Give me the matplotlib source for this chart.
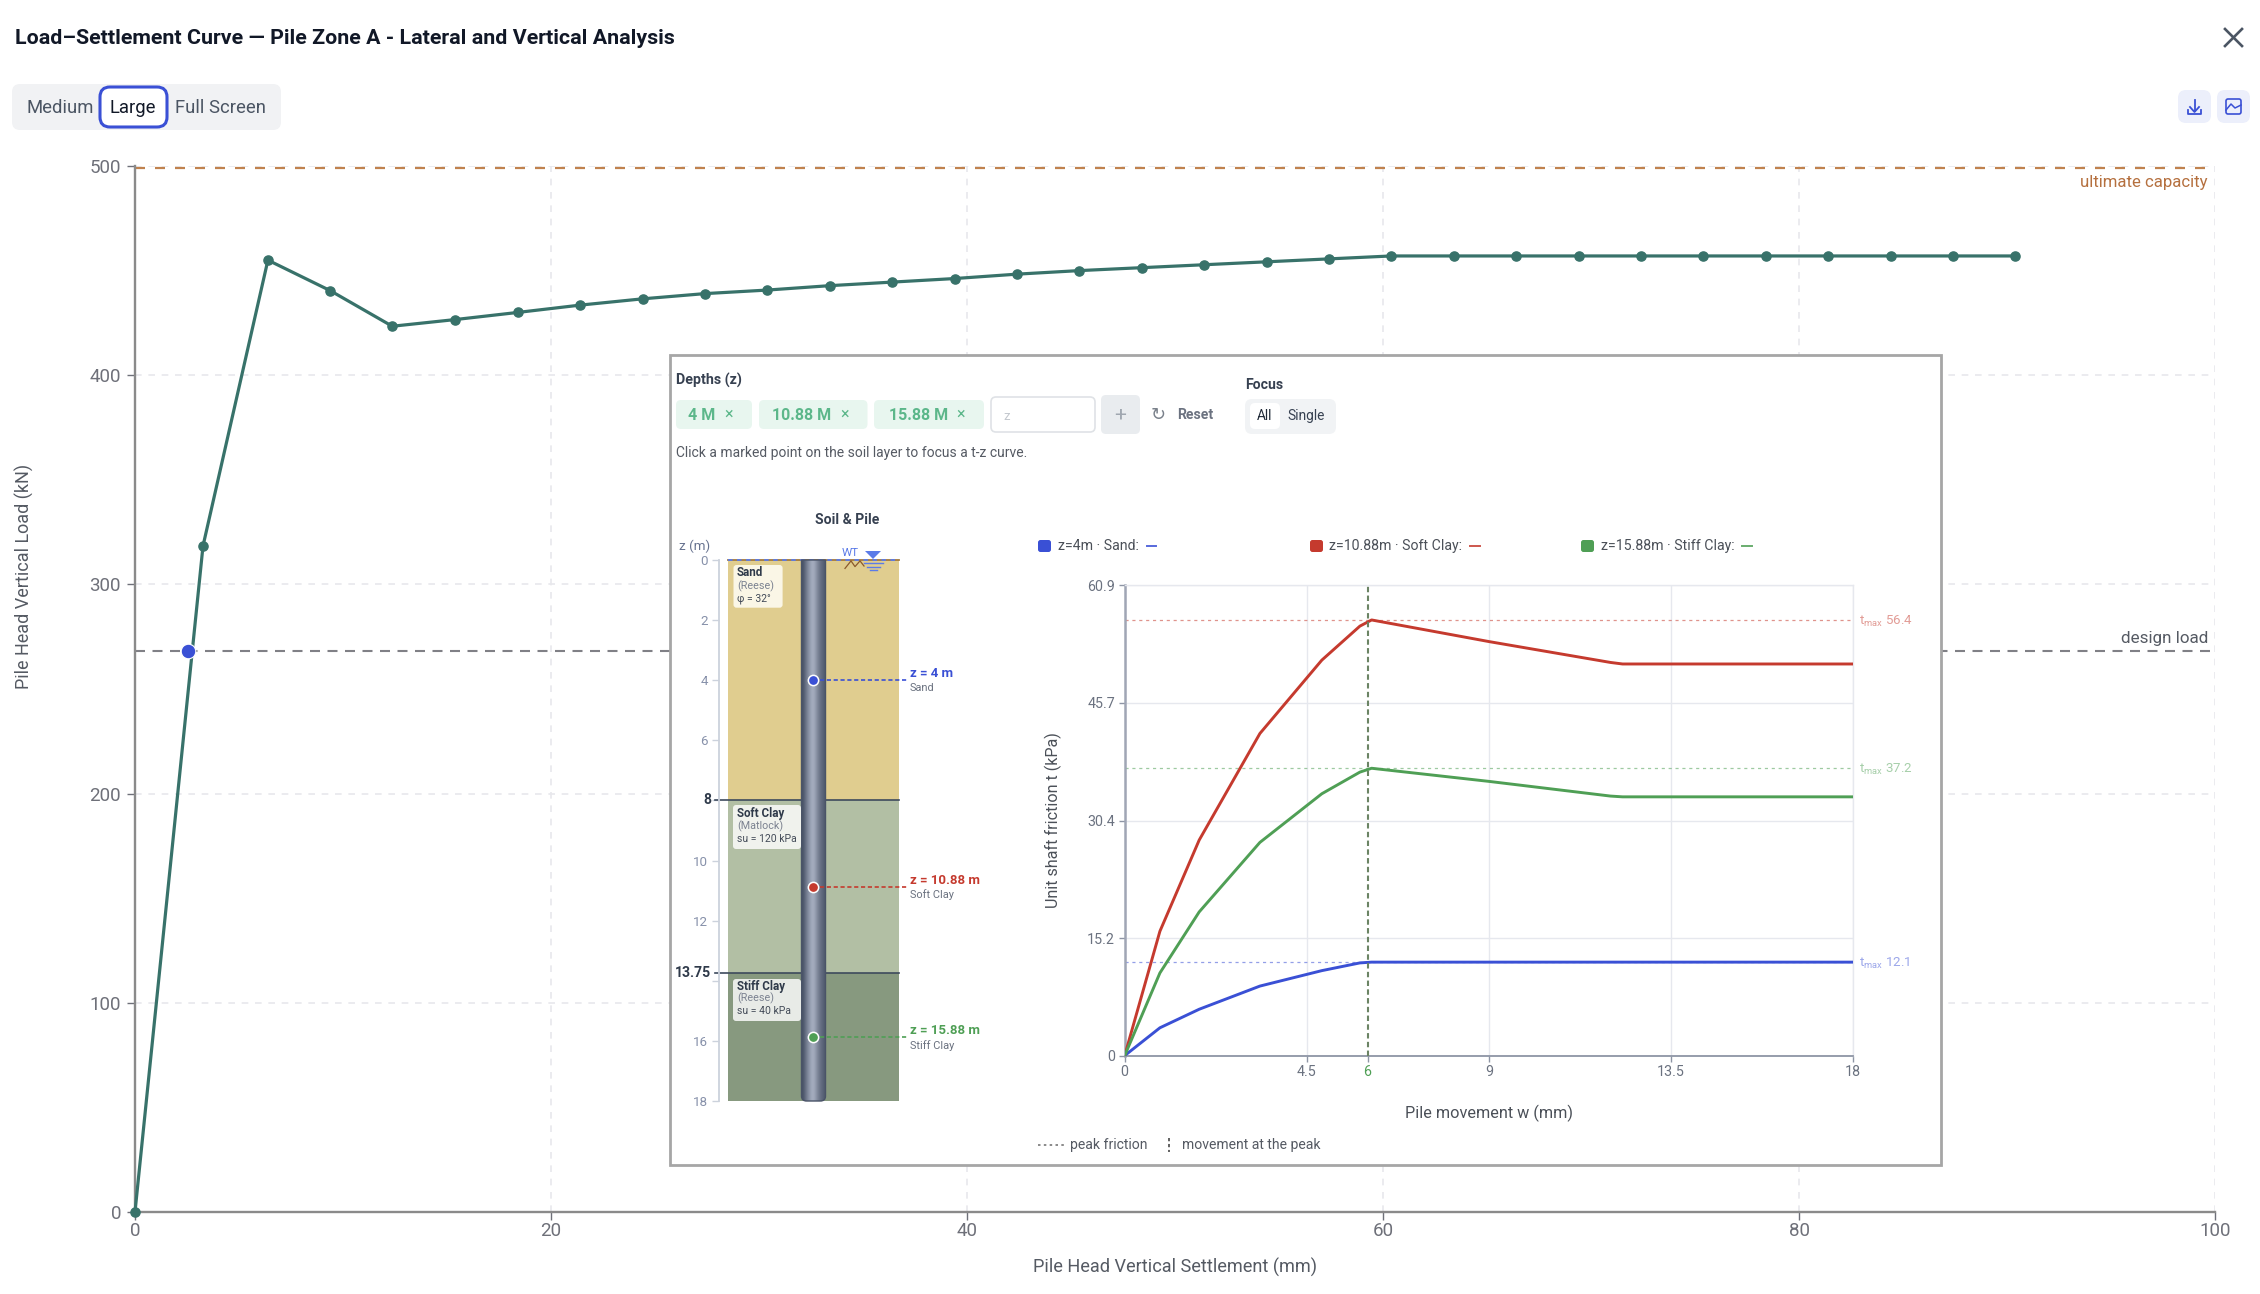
import numpy as np
import matplotlib
matplotlib.use("Agg")
import matplotlib.pyplot as plt
from matplotlib.patches import FancyBboxPatch, Rectangle, Polygon, PathPatch
from matplotlib.path import Path

plt.rcParams['font.family'] = ['Roboto', 'DejaVu Sans']
plt.rcParams['mathtext.fontset'] = 'custom'
plt.rcParams['mathtext.rm'] = 'Roboto'

# ---------- data ----------
settlement = [0, 3.27, 6.39, 9.39, 12.37, 15.4, 18.4, 21.4, 24.4, 27.4, 30.4, 33.4, 36.4, 39.4, 42.4,
              45.4, 48.4, 51.4, 54.4, 57.4, 60.4, 63.4, 66.4, 69.4, 72.4, 75.4, 78.4, 81.4, 84.4, 87.4, 90.4]
load = [0, 318.4, 455, 440.4, 423.4, 426.6, 430, 433.5, 436.5, 439, 440.7, 442.8, 444.5, 446.2, 448.3,
        450, 451.4, 452.8, 454.2, 455.6, 457, 457, 457, 457, 457, 457, 457, 457, 457, 457, 457]
design_point = (2.53, 268.2)
ultimate_load = 499.2
main_xticks = [0, 20, 40, 60, 80, 100]
main_yticks = [0, 100, 200, 300, 400, 500]

w_mm = [0, 0.87, 1.84, 3.34, 4.87, 5.81, 6.1, 9.0, 12.0, 12.3, 18]
t_sand = [0, 3.6, 6.0, 9.0, 11.0, 12.0, 12.1, 12.1, 12.1, 12.1, 12.1]
t_soft = [0, 16.1, 27.9, 41.7, 51.2, 55.6, 56.4, 53.6, 50.9, 50.7, 50.7]
t_stiff = [0, 10.7, 18.6, 27.6, 33.9, 36.7, 37.2, 35.5, 33.6, 33.5, 33.5]
t_max = [12.1, 56.4, 37.2]
peak_w = 6
tz_xticks = [0, 4.5, 6, 9, 13.5, 18]
tz_yticks = [0, 15.2, 30.4, 45.7, 60.9]
tz_ylabels = ['0', '15.2', '30.4', '45.7', '60.9']
tz_xlabels = ['0', '4.5', '6', '9', '13.5', '18']

layer_tops = [0, 8, 13.75]
layer_bottoms = [8, 13.75, 18]
layer_names = ['Sand', 'Soft Clay', 'Stiff Clay']
layer_models = ['(Reese)', '(Matlock)', '(Reese)']
layer_props = ['φ = 32°', 'su = 120 kPa', 'su = 40 kPa']
depths = [4, 10.88, 15.88]
depth_labels = ['z = 4 m', 'z = 10.88 m', 'z = 15.88 m']
z_ticks = [0, 2, 4, 6, 8, 10, 12, 14, 16, 18]
chips = ['4 M', '10.88 M', '15.88 M']
legend_labels = ['z=4m · Sand:', 'z=10.88m · Soft Clay:', 'z=15.88m · Stiff Clay:']

BLUE, RED, GREEN = '#3a50d5', '#c53a2e', '#4f9f55'
TEAL = '#38726a'
SOIL = ['#e0cd8f', '#b2bfa4', '#87997f']

W, H = 2260, 1294
fig = plt.figure(figsize=(W / 100, H / 100), dpi=100, facecolor='white')
fs = lambda px: px * 0.72


def axpx(x0, y0, x1, y1, **kw):
    return fig.add_axes([x0 / W, 1 - y1 / H, (x1 - x0) / W, (y1 - y0) / H], **kw)


# ---------- main chart ----------
ax = axpx(135, 166, 2215, 1212, zorder=1)
ax.set_xlim(0, 100)
ax.set_ylim(0, 500)
for s in ('top', 'right'):
    ax.spines[s].set_visible(False)
for s in ('left', 'bottom'):
    ax.spines[s].set_color('#8a8a8a')
    ax.spines[s].set_linewidth(1.7)
ax.set_xticks(main_xticks)
ax.set_yticks(main_yticks)
ax.tick_params(length=6, width=1, color='#6e7079', labelcolor='#6e7079', labelsize=fs(18.8), pad=4)
ax.tick_params(axis='x', pad=1)
ax.grid(True, color='#e8e8ec', lw=1.2, ls=(0, (4, 4)))
ax.set_axisbelow(True)
ax.axhline(ultimate_load, color='#c0824e', lw=1.6, ls=(0, (4.5, 4.5)), zorder=2, clip_on=False)
ax.axhline(design_point[1], color='#808086', lw=1.5, ls=(0, (4.8, 3.6)), zorder=2)
ax.plot(settlement, load, color=TEAL, lw=2.3, marker='o', ms=6.6, zorder=3, clip_on=False)
ax.plot([design_point[0]], [design_point[1]], 'o', ms=10.5, color=BLUE, mec='white', mew=0.8, zorder=4)
ax.set_xlabel('Pile Head Vertical Settlement (mm)', fontsize=fs(18.1), color='#555a63', labelpad=0)
ax.xaxis.set_label_coords((1175 - 135) / 2080, -(1267 - 1212) / 1046)
ax.xaxis.label.set_va('center')
ax.set_ylabel('Pile Head Vertical Load (kN)', fontsize=fs(18), color='#555a63')
ax.yaxis.set_label_coords(-(135 - 24) / 2080, (1212 - 576) / 1046)
ax.yaxis.label.set_va('center')

# ---------- interface layer in pixel coordinates ----------
ui = axpx(0, 0, W, H, zorder=2)
ui.set_xlim(0, W)
ui.set_ylim(H, 0)
ui.axis('off')
ui.patch.set_alpha(0)


def rbox(x0, y0, x1, y1, r, fc, ec='none', lw=0, z=2):
    ui.add_patch(FancyBboxPatch((x0 + r, y0 + r), x1 - x0 - 2 * r, y1 - y0 - 2 * r,
                                boxstyle=f'round,pad={r},rounding_size={r}', fc=fc, ec=ec, lw=lw, zorder=z))


def label(x, y, s, px, color='#444', ha='left', weight='normal', z=5, **kw):
    ui.text(x, y + 1, s, fontsize=fs(px), color=color, ha=ha, va='center', fontweight=weight, zorder=z, **kw)


label(15, 37.5, 'Load–Settlement Curve — Pile Zone A - Lateral and Vertical Analysis', 21.4, '#111827', weight='bold')
rbox(12, 84, 281, 130, 8, '#f1f2f4')
rbox(100, 87, 167, 127, 10, 'white', ec=BLUE, lw=2.2)
label(60, 107, 'Medium', 18.5, '#4b5563', ha='center')
label(133, 107, 'Large', 18.5, '#111827', ha='center')
label(220, 107, 'Full Screen', 18.5, '#4b5563', ha='center')

# close icon
ui.plot([2225, 2242], [29, 46], color='#4b5563', lw=1.9, zorder=3)
ui.plot([2225, 2242], [46, 29], color='#4b5563', lw=1.9, zorder=3)
# download and image buttons
rbox(2178, 90, 2211, 123, 8, '#eceffb')
rbox(2217, 90, 2250, 123, 8, '#eceffb')
ui.plot([2194.5, 2194.5], [100, 111], color=BLUE, lw=1.3, zorder=3)
ui.plot([2190, 2194.5, 2199], [107, 112, 107], color=BLUE, lw=1.3, zorder=3)
ui.plot([2188, 2188, 2201, 2201], [110, 114, 114, 110], color=BLUE, lw=1.3, zorder=3)
rbox(2226, 99, 2241, 114, 2, 'none', ec=BLUE, lw=1.2, z=3)
ui.plot([2226, 2231, 2235, 2241], [110, 104, 108, 105], color=BLUE, lw=1.1, zorder=3)

label(2208, 181, 'ultimate capacity', 16.7, '#b5703f', ha='right')
label(2208, 638, 'design load', 17, '#555a63', ha='right')

# panel
ui.add_patch(Rectangle((670, 355), 1271, 810, fc='white', ec='#a6a6a6', lw=2, zorder=1.5))
label(676, 379, 'Depths (z)', 14.2, '#374151', weight='bold')
for (x0, x1), s, tx, cx in zip([(676, 752), (759, 867.5), (874, 984)], chips, [702, 802, 918.5], [729, 845, 961]):
    rbox(x0, 400, x1, 429, 5, '#e8f6ef')
    label(tx, 414, s, 16, '#5cb78a', ha='center', weight='bold')
    label(cx, 413, '×', 16, '#5cb78a', ha='center')
rbox(991, 397, 1095, 432, 5, 'white', ec='#dfe2e6', lw=1.2)
label(1003, 415, 'z', 13, '#c4c8ce')
rbox(1101, 395, 1140, 434, 5, '#e9ecef')
label(1120.5, 414, '+', 21, '#a0a7b0', ha='center')
label(1158, 414, '↻', 18, '#7a818b', ha='center')
label(1177, 414, 'Reset', 14, '#6b7280', weight='bold')
label(1245, 384, 'Focus', 14, '#374151', weight='bold')
rbox(1245, 399, 1336, 434, 7, '#f1f3f5')
rbox(1250, 403, 1280, 429, 5, 'white')
label(1265, 415, 'All', 13.8, '#1f2937', ha='center')
label(1306.5, 415, 'Single', 13.8, '#374151', ha='center')
label(676, 452, 'Click a marked point on the soil layer to focus a t-z curve.', 13.9, '#555a63')
label(847, 519, 'Soil & Pile', 14, '#374151', ha='center', weight='bold')
label(679, 545, 'z (m)', 13.4, '#66728f')

# tz legend
for (x0, tx, lx0, lx1), s, c in zip([(1038, 1058, 1147, 1156), (1310, 1329, 1470, 1480), (1581, 1601, 1742, 1752)],
                                    legend_labels, [BLUE, RED, GREEN]):
    rbox(x0, 540, x0 + 13, 552, 2.5, c)
    label(tx, 545, s, 14.1, '#4b5058')
    ui.plot([lx0, lx1], [546, 546], color=c, lw=1.4, alpha=0.85, zorder=3)

# bottom legend
ui.plot([1038, 1064], [1145, 1145], color='#777', lw=1.2, ls=(0, (1.5, 2)), zorder=3)
label(1070, 1144, 'peak friction', 14, '#555a63')
ui.plot([1169, 1169], [1138, 1152], color='#555', lw=1.3, ls=(0, (1.8, 1.5)), zorder=3)
label(1182, 1144, 'movement at the peak', 14, '#555a63')

# ---------- soil column: x in panel pixels, y in metres ----------
sx0, sx1 = 728, 899
so = axpx(719, 560, 899, 1101, zorder=3)
so.patch.set_alpha(0)
so.set_xlim(719, 899)
so.set_ylim(18, 0)
for s in ('top', 'right', 'bottom'):
    so.spines[s].set_visible(False)
so.spines['left'].set_color('#ccd2dc')
so.spines['left'].set_linewidth(1.3)
so.set_xticks([])
so.set_yticks(z_ticks)
so.set_yticklabels([str(z) if z not in (8, 14) else '' for z in z_ticks])
so.tick_params(axis='y', length=5, width=1, color='#ccd2dc', labelcolor='#8791aa', labelsize=fs(13.4), pad=3)
for top, bot, c in zip(layer_tops, layer_bottoms, SOIL):
    so.add_patch(Rectangle((sx0, top), sx1 - sx0, bot - top, fc=c, ec='none', zorder=1))
for z in layer_tops[1:]:
    so.plot([715, sx1], [z, z], color='#3d4a5c', lw=1.2, zorder=2, clip_on=False)
    so.text(711, z, f'{z:g}', fontsize=fs(14), fontweight='bold', color='#2f3a4a', ha='right', va='center', zorder=6)
# ground surface and zigzag
so.plot([sx0, sx1], [0, 0], color='#a47a3c', lw=1.3, zorder=2, clip_on=False)
so.plot([sx0, sx1], [0, 0], color='#5b7be8', lw=1.3, ls=(0, (2.5, 2.5)), zorder=2.1, clip_on=False)
so.plot([845, 851, 855, 860, 864], [0.28, 0.03, 0.22, 0.03, 0.2], color='#8a5a2c', lw=0.9, zorder=3)
# pile with a cylindrical shading
grad = np.array([0.0, 0.22, 0.42, 0.6, 0.72, 0.6, 0.4, 0.25, 0.15, 0.05])
pile_cmap = matplotlib.colors.LinearSegmentedColormap.from_list('pile', ['#4a5468', '#a8b0c2'])
im = so.imshow(grad[None, :], cmap=pile_cmap, vmin=0, vmax=0.72, aspect='auto',
               extent=[801.5, 825.5, 18, 0], zorder=3, interpolation='bicubic')
so.set_xlim(719, 899)
so.set_ylim(18, 0)
pile_path = Path([(801.5, 560), (801.5, 1096), (801.5, 1101), (806.5, 1101), (820.5, 1101), (825.5, 1101),
                  (825.5, 1096), (825.5, 560), (801.5, 560)],
                 [Path.MOVETO, Path.LINETO, Path.CURVE3, Path.CURVE3, Path.LINETO, Path.CURVE3,
                  Path.CURVE3, Path.LINETO, Path.CLOSEPOLY])
pile_outline = PathPatch(pile_path, transform=ui.transData, fc='none', ec='#4a5468', lw=1.0, zorder=3.1, clip_on=False)
so.add_patch(pile_outline)
pile_outline.set_clip_on(False)
im.set_clip_path(PathPatch(pile_path, transform=ui.transData))
# depth markers
for z, c in zip(depths, [BLUE, RED, GREEN]):
    so.plot([820, 907], [z, z], color=c, lw=1.2, ls=(0, (2.5, 1.6)), zorder=4, clip_on=False)
    so.plot([813], [z], 'o', ms=7.4, color=c, mec='white', mew=1.1, zorder=5)

# layer captions and symbols above the soil axes
txt = axpx(0, 0, W, H, zorder=4)
txt.set_xlim(0, W)
txt.set_ylim(H, 0)
txt.axis('off')
txt.patch.set_alpha(0)
txt.text(850, 553, 'WT', fontsize=fs(11.5), color='#5b7be8', ha='center', va='center', zorder=6)
txt.add_patch(Polygon([[865, 551], [881, 551], [873, 559]], fc='#5b7be8', ec='none', zorder=6))
for xa, xb, yy in [(864, 883, 563), (867, 880, 567), (869.5, 876.5, 570)]:
    txt.plot([xa, xb], [yy, yy], color='#5b7be8', lw=1.0, zorder=6)
for (bx0, by0, bx1, by1), tys, name, model, prop, fc in zip(
        [(733.5, 565, 782.6, 607.7), (733, 805, 801, 849), (733, 979, 801, 1021)],
        [(572, 586, 598), (813, 826, 838), (986, 998, 1011)],
        layer_names, layer_models, layer_props, ['#faf6e6', '#f0f2ed', '#e8ebe7']):
    txt.add_patch(FancyBboxPatch((bx0 + 3, by0 + 3), bx1 - bx0 - 6, by1 - by0 - 6,
                                 boxstyle='round,pad=3,rounding_size=3', fc=fc, ec='none', zorder=1))
    txt.text(737, tys[0] + 0.5, name, fontsize=fs(11.6), fontweight='bold', color='#2f3a4a', va='center', zorder=2)
    txt.text(737, tys[1] + 0.5, model, fontsize=fs(10.8), color='#7b8290', va='center', zorder=2)
    txt.text(737, tys[2] + 0.5, prop, fontsize=fs(10.4), color='#444c59', va='center', zorder=2)
for y_z, s, nm, c in zip([560 + 30.05 * d for d in depths], depth_labels, layer_names, [BLUE, RED, GREEN]):
    txt.text(910, y_z - 6.5, s, fontsize=fs(13.3), fontweight='bold', color=c, va='center', zorder=2)
    txt.text(910, y_z + 8, nm, fontsize=fs(11), color='#6b7280', va='center', zorder=2)

# ---------- t-z curves ----------
tz = axpx(1124.7, 585.2, 1853.3, 1055.6, zorder=3)
tz.patch.set_alpha(0)
tz.set_xlim(0, 18)
tz.set_ylim(0, 60.9)
for s in ('top', 'right'):
    tz.spines[s].set_color('#e6e8ee')
    tz.spines[s].set_linewidth(1)
tz.spines['left'].set_color('#a0a6b5')
tz.spines['left'].set_linewidth(1.8)
tz.spines['bottom'].set_color('#8e95a5')
tz.spines['bottom'].set_linewidth(1.3)
tz.set_xticks(tz_xticks)
tz.set_xticklabels(tz_xlabels)
tz.set_yticks(tz_yticks)
tz.set_yticklabels(tz_ylabels)
tz.tick_params(length=4, width=1, color='#8e95a5', labelcolor='#6b7280', labelsize=fs(14.3), pad=3)
tz.get_xticklabels()[2].set_color(GREEN)
tz.grid(True, color='#e6e8ee', lw=1)
tz.set_axisbelow(True)
for gl, t in zip(tz.get_xgridlines(), tz_xticks):
    if t == peak_w:
        gl.set_visible(False)
for t, c, vals in zip(t_max, [BLUE, RED, GREEN], [t_sand, t_soft, t_stiff]):
    tz.axhline(t, color=c, lw=0.9, alpha=0.55, ls=(0, (2.5, 3)), zorder=2)
    tz.plot(w_mm, vals, color=c, lw=2.1, zorder=3, solid_joinstyle='round')
    tz.annotate(f'$\\mathregular{{t_{{max}}}}$ {t:g}', xy=(18, t), xytext=(4, -1), textcoords='offset points',
                fontsize=fs(13.4), color=c, alpha=0.5, va='center', ha='left', annotation_clip=False)
tz.axvline(peak_w, color='#6b8464', lw=1.5, ls=(0, (2.6, 1.6)), zorder=4)
tz.set_xlabel('Pile movement w (mm)', fontsize=fs(16.2), color='#4b5058')
tz.xaxis.set_label_coords((1489 - 1124.7) / 728.6, -(1113 - 1055.6) / 470.4)
tz.xaxis.label.set_va('center')
tz.set_ylabel('Unit shaft friction t (kPa)', fontsize=fs(16.1), color='#4b5058')
tz.yaxis.set_label_coords(-(1124.7 - 1053.5) / 728.6, (1055.6 - 820) / 470.4)
tz.yaxis.label.set_va('center')

fig.savefig('out.png', dpi=100, facecolor='white')
